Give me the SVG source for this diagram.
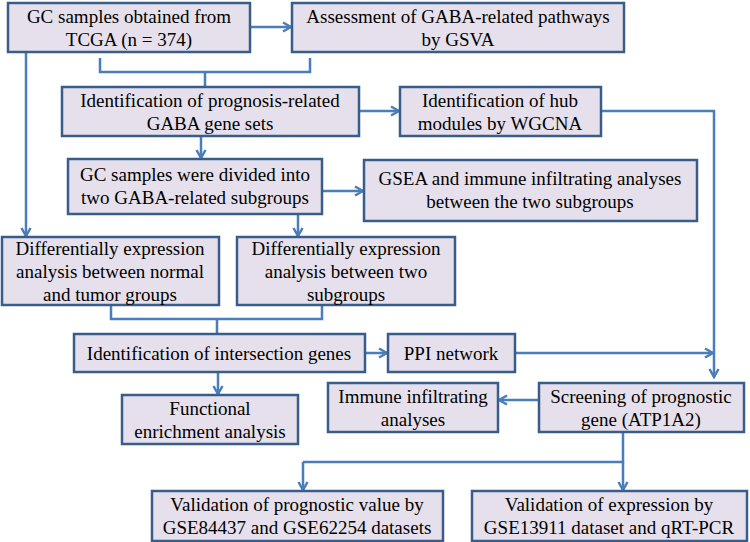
<svg xmlns="http://www.w3.org/2000/svg" width="750" height="542" viewBox="0 0 750 542">
<style>
.box{fill:#E6E0EC;stroke:#385D8A;stroke-width:2.5}
.t{font-family:'Liberation Serif','Times New Roman',serif;font-size:19px;fill:#000;text-anchor:middle}
.c{fill:none;stroke:#4A7EBB;stroke-width:2.5}
.a{marker-end:url(#arr)}
</style>
<defs>
<marker id="arr" viewBox="0 0 12 12" refX="10" refY="6" markerWidth="12" markerHeight="12" markerUnits="userSpaceOnUse" orient="auto">
<path d="M2,1.5 L10,6 L2,10.5" fill="none" stroke="#4A7EBB" stroke-width="2.5"/>
</marker>
</defs>
<rect width="750" height="542" fill="#fff"/>
<g id="connectors">
<path class="c a" d="M250,27 H291"/>
<path class="c" d="M100,58 V72 H310 V58 M205,72 V87"/>
<path class="c a" d="M359,111 H399"/>
<path class="c a" d="M601,111 H714 V377"/>
<path class="c a" d="M26,52 V236"/>
<path class="c a" d="M201,136 V158"/>
<path class="c a" d="M322,191 H363"/>
<path class="c a" d="M298,214 V236"/>
<path class="c" d="M111,305 V319 H322 V305 M217,319 V334"/>
<path class="c a" d="M365,353 H387"/>
<path class="c a" d="M515,353 H713"/>
<path class="c a" d="M539,400 H499"/>
<path class="c a" d="M218,372 V394"/>
<path class="c" d="M623,432 V462 H303"/>
<path class="c a" d="M303,462 V490"/>
<path class="c a" d="M623,462 V490"/>
</g>
<g id="n1"><rect class="box" x="8" y="3" width="242" height="49"/>
<text class="t" x="129" y="22.5">GC samples obtained from</text><text class="t" x="129" y="45.5">TCGA (n = 374)</text></g>
<g id="n2"><rect class="box" x="292" y="3" width="332" height="49"/>
<text class="t" x="458" y="22.5">Assessment of GABA-related pathways</text><text class="t" x="458" y="45.5">by GSVA</text></g>
<g id="n3"><rect class="box" x="62" y="87" width="297" height="49"/>
<text class="t" x="210" y="106.5">Identification of prognosis-related</text><text class="t" x="210" y="129.5">GABA gene sets</text></g>
<g id="n4"><rect class="box" x="400" y="87" width="201" height="49"/>
<text class="t" x="500" y="106.5">Identification of hub</text><text class="t" x="500" y="129.5">modules by WGCNA</text></g>
<g id="n5"><rect class="box" x="68" y="159" width="254" height="55"/>
<text class="t" x="195" y="181">GC samples were divided into</text><text class="t" x="195" y="204">two GABA-related subgroups</text></g>
<g id="n6"><rect class="box" x="364" y="160" width="333" height="61"/>
<text class="t" x="530" y="185">GSEA and immune infiltrating analyses</text><text class="t" x="530" y="208">between the two subgroups</text></g>
<g id="n7"><rect class="box" x="2" y="237" width="217" height="68"/>
<text class="t" x="110" y="255">Differentially expression</text><text class="t" x="110" y="278">analysis between normal</text><text class="t" x="110" y="301">and tumor groups</text></g>
<g id="n8"><rect class="box" x="237" y="237" width="218" height="68"/>
<text class="t" x="346" y="255">Differentially expression</text><text class="t" x="346" y="278">analysis between two</text><text class="t" x="346" y="301">subgroups</text></g>
<g id="n9"><rect class="box" x="74" y="334" width="291" height="38"/>
<text class="t" x="219" y="359.5">Identification of intersection genes</text></g>
<g id="n10"><rect class="box" x="388" y="334" width="127" height="38"/>
<text class="t" x="451" y="359.5">PPI network</text></g>
<g id="n11"><rect class="box" x="328" y="383" width="170" height="49"/>
<text class="t" x="413" y="402.5">Immune infiltrating</text><text class="t" x="413" y="425.5">analyses</text></g>
<g id="n12"><rect class="box" x="539" y="383" width="205" height="49"/>
<text class="t" x="641" y="402.5">Screening of prognostic</text><text class="t" x="641" y="425.5">gene (ATP1A2)</text></g>
<g id="n13"><rect class="box" x="122" y="395" width="176" height="49"/>
<text class="t" x="210" y="414.5">Functional</text><text class="t" x="210" y="437.5">enrichment analysis</text></g>
<g id="n14"><rect class="box" x="152" y="491" width="291" height="50"/>
<text class="t" x="297" y="511">Validation of prognostic value by</text><text class="t" x="297" y="534">GSE84437 and GSE62254 datasets</text></g>
<g id="n15"><rect class="box" x="472" y="491" width="275" height="50"/>
<text class="t" x="609" y="511">Validation of expression by</text><text class="t" x="609" y="534">GSE13911 dataset and qRT-PCR</text></g>
</svg>
